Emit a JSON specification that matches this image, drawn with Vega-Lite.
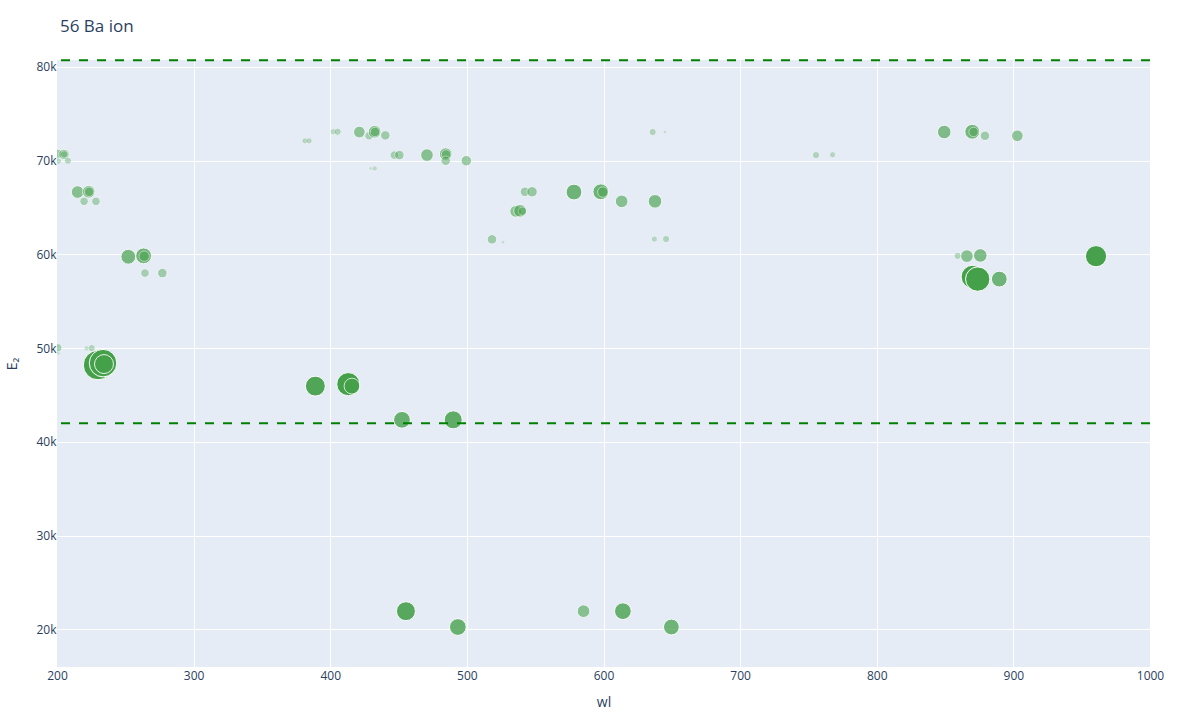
{
  "$schema": "https://vega.github.io/schema/vega-lite/v6.json",
  "width": 1093,
  "height": 607,
  "autosize": {"type": "none"},
  "padding": {"left": 57, "top": 60, "right": 50, "bottom": 53},
  "background": "white",
  "config": {"view": {"fill": "#E5ECF6", "stroke": null}, "font": "Open Sans"},
  "title": {"text": "56 Ba ion", "anchor": "start", "frame": "group", "fontSize": 17, "fontWeight": "normal", "color": "#2a3f5f", "offset": 10, "baseline": "alphabetic", "dx": 3},
  "layer": [
    {
      "data": {"values": [
        {"wl": 200.5, "E2": 70700, "intensity": 30},
        {"wl": 205.1, "E2": 70660, "intensity": 33},
        {"wl": 205.3, "E2": 70660, "intensity": 23},
        {"wl": 201.0, "E2": 69940, "intensity": 20},
        {"wl": 208.0, "E2": 69980, "intensity": 23},
        {"wl": 215.1, "E2": 66640, "intensity": 40},
        {"wl": 223.2, "E2": 66670, "intensity": 40},
        {"wl": 223.5, "E2": 66670, "intensity": 30},
        {"wl": 219.8, "E2": 65650, "intensity": 27},
        {"wl": 228.5, "E2": 65650, "intensity": 27},
        {"wl": 252.2, "E2": 59740, "intensity": 47},
        {"wl": 263.4, "E2": 59840, "intensity": 50},
        {"wl": 263.8, "E2": 59800, "intensity": 33},
        {"wl": 264.4, "E2": 58000, "intensity": 27},
        {"wl": 277.1, "E2": 58000, "intensity": 30},
        {"wl": 200.5, "E2": 50030, "intensity": 27},
        {"wl": 201.0, "E2": 49440, "intensity": 13},
        {"wl": 221.7, "E2": 49970, "intensity": 17},
        {"wl": 225.4, "E2": 50000, "intensity": 23},
        {"wl": 230.0, "E2": 48190, "intensity": 93},
        {"wl": 233.7, "E2": 48400, "intensity": 87},
        {"wl": 234.4, "E2": 48300, "intensity": 60},
        {"wl": 216.8, "E2": 46050, "intensity": 7},
        {"wl": 381.5, "E2": 72100, "intensity": 20},
        {"wl": 384.5, "E2": 72100, "intensity": 20},
        {"wl": 402.2, "E2": 73070, "intensity": 20},
        {"wl": 405.4, "E2": 73070, "intensity": 23},
        {"wl": 421.3, "E2": 73040, "intensity": 37},
        {"wl": 428.4, "E2": 72640, "intensity": 27},
        {"wl": 432.5, "E2": 73070, "intensity": 40},
        {"wl": 432.8, "E2": 73050, "intensity": 30},
        {"wl": 440.3, "E2": 72680, "intensity": 30},
        {"wl": 429.6, "E2": 69160, "intensity": 13},
        {"wl": 432.5, "E2": 69160, "intensity": 17},
        {"wl": 446.9, "E2": 70580, "intensity": 27},
        {"wl": 450.6, "E2": 70580, "intensity": 30},
        {"wl": 470.8, "E2": 70580, "intensity": 40},
        {"wl": 484.5, "E2": 70690, "intensity": 40},
        {"wl": 484.8, "E2": 70650, "intensity": 30},
        {"wl": 484.5, "E2": 69980, "intensity": 30},
        {"wl": 499.6, "E2": 69980, "intensity": 33},
        {"wl": 518.4, "E2": 61600, "intensity": 30},
        {"wl": 526.4, "E2": 61300, "intensity": 13},
        {"wl": 636.0, "E2": 73040, "intensity": 23},
        {"wl": 645.0, "E2": 73040, "intensity": 13},
        {"wl": 542.5, "E2": 66670, "intensity": 30},
        {"wl": 547.7, "E2": 66670, "intensity": 33},
        {"wl": 535.7, "E2": 64580, "intensity": 37},
        {"wl": 538.9, "E2": 64640, "intensity": 40},
        {"wl": 540.7, "E2": 64600, "intensity": 27},
        {"wl": 578.4, "E2": 66640, "intensity": 50},
        {"wl": 598.0, "E2": 66670, "intensity": 50},
        {"wl": 599.5, "E2": 66640, "intensity": 33},
        {"wl": 613.3, "E2": 65650, "intensity": 40},
        {"wl": 637.7, "E2": 65650, "intensity": 43},
        {"wl": 637.2, "E2": 61630, "intensity": 20},
        {"wl": 645.8, "E2": 61630, "intensity": 23},
        {"wl": 389.1, "E2": 45950, "intensity": 63},
        {"wl": 413.2, "E2": 46160, "intensity": 73},
        {"wl": 415.9, "E2": 45950, "intensity": 50},
        {"wl": 452.5, "E2": 42355, "intensity": 53},
        {"wl": 490.0, "E2": 42355, "intensity": 57},
        {"wl": 455.4, "E2": 21952, "intensity": 60},
        {"wl": 493.4, "E2": 20262, "intensity": 53},
        {"wl": 585.4, "E2": 21952, "intensity": 40},
        {"wl": 614.2, "E2": 21952, "intensity": 53},
        {"wl": 649.7, "E2": 20262, "intensity": 50},
        {"wl": 755.5, "E2": 70580, "intensity": 23},
        {"wl": 767.7, "E2": 70620, "intensity": 20},
        {"wl": 849.4, "E2": 73040, "intensity": 43},
        {"wl": 869.9, "E2": 73070, "intensity": 47},
        {"wl": 870.9, "E2": 73050, "intensity": 30},
        {"wl": 879.2, "E2": 72640, "intensity": 30},
        {"wl": 902.9, "E2": 72640, "intensity": 37},
        {"wl": 859.2, "E2": 59840, "intensity": 23},
        {"wl": 866.0, "E2": 59810, "intensity": 40},
        {"wl": 875.8, "E2": 59880, "intensity": 43},
        {"wl": 870.2, "E2": 57600, "intensity": 73},
        {"wl": 873.9, "E2": 57360, "intensity": 77},
        {"wl": 889.7, "E2": 57360, "intensity": 50},
        {"wl": 960.5, "E2": 59800, "intensity": 67}
      ]},
      "mark": {"type": "circle", "fill": "#45A04A", "stroke": "white", "strokeWidth": 1, "clip": true},
      "encoding": {
        "x": {"field": "wl", "type": "quantitative",
          "scale": {"domain": [200, 1000], "nice": false, "zero": false},
          "axis": {"title": "wl", "values": [200, 300, 400, 500, 600, 700, 800, 900, 1000], "format": "d",
            "grid": true, "gridColor": {"condition": {"test": "datum.value == 200 || datum.value == 1000", "value": "transparent"}, "value": "white"},
            "gridWidth": 1, "domain": false, "ticks": false, "labelPadding": 3, "labelFontSize": 12, "labelColor": "#2a3f5f",
            "labelFlush": false, "labelOverlap": false, "titleFontSize": 14, "titleColor": "#2a3f5f", "titleFontWeight": "normal", "titlePadding": 14}},
        "y": {"field": "E2", "type": "quantitative",
          "scale": {"domain": [16000, 80720], "nice": false, "zero": false},
          "axis": {"title": "E₂", "values": [20000, 30000, 40000, 50000, 60000, 70000, 80000], "format": "~s",
            "grid": true, "gridColor": "white", "gridWidth": 1, "domain": false, "ticks": false, "labelPadding": 1,
            "labelFontSize": 12, "labelColor": "#2a3f5f", "labelFlush": false, "labelOverlap": false,
            "titleFontSize": 14, "titleColor": "#2a3f5f", "titleFontWeight": "normal", "titlePadding": 16}},
        "size": {"field": "intensity", "type": "quantitative", "scale": {"type": "pow", "exponent": 2, "domain": [0, 100], "range": [0, 1000]}, "legend": null},
        "opacity": {"field": "intensity", "type": "quantitative", "scale": {"domain": [0, 68], "range": [0, 1], "clamp": true}, "legend": null}
      }
    },
    {
      "data": {"values": [{"E2": 80686.3}, {"E2": 42000}]},
      "mark": {"type": "rule", "color": "green", "strokeWidth": 2, "strokeDash": [9, 9]},
      "encoding": {"y": {"field": "E2", "type": "quantitative"}}
    }
  ]
}
